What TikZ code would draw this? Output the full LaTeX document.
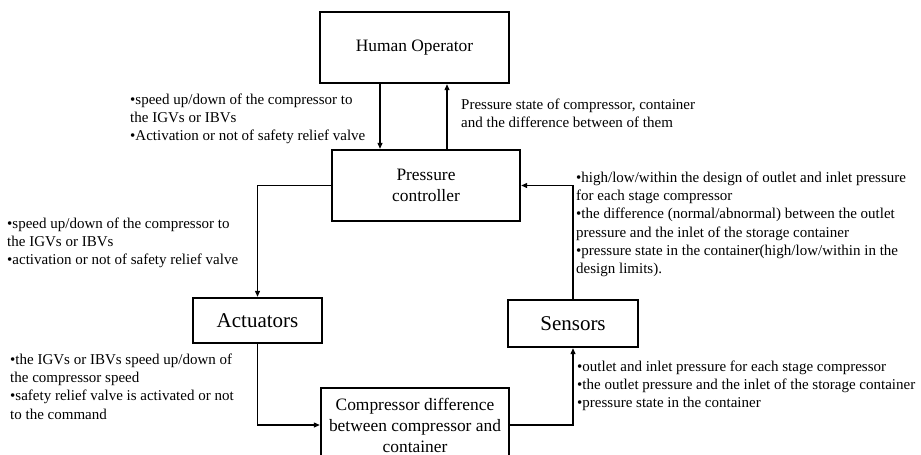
\documentclass[tikz,border=0pt]{standalone}
\usepackage{fontspec}
\setmainfont{Liberation Serif}
\usetikzlibrary{arrows.meta}
\begin{document}
\begin{tikzpicture}[x=1pt,y=-1pt,
  box/.style={draw=black,line width=2.4pt,inner sep=0pt,align=center},
  boxtext/.style={font=\fontsize{17.4}{21}\selectfont},
  bigtext/.style={font=\fontsize{21}{24}\selectfont},
  lbl/.style={inner sep=0pt,anchor=north west,align=left,font=\fontsize{15}{18.3}\selectfont},
  conn/.style={draw=black,line width=1.2pt,-{Triangle[length=6pt,width=5pt]}}]
\useasboundingbox (0,0) rectangle (921,455);
% boxes
\node[box,boxtext,minimum width=189pt,minimum height=71pt] (ho) at (414.5,47.5) {Human Operator};
\node[box,boxtext,minimum width=188pt,minimum height=71pt] (pc) at (426,185.5) {Pressure\\controller};
\node[box,bigtext,minimum width=129pt,minimum height=45pt] (act) at (257.5,320.5) {Actuators};
\node[box,bigtext,minimum width=130pt,minimum height=47pt] (sen) at (573,323.5) {Sensors};
\node[box,boxtext,minimum width=188pt,minimum height=74pt] (cd) at (415,425) {Compressor difference\\between compressor and\\container};
% connectors
\coordinate (hoL) at (380,0);
\coordinate (hoR) at (447,0);
\draw[conn] (ho.south -| hoL) -- (pc.north -| hoL);
\draw[conn] (pc.north -| hoR) -- (ho.south -| hoR);
\draw[conn] (pc.west) -| (act.north);
\draw[conn] (act.south) |- (cd.west);
\draw[conn] (cd.east) -| (sen.south);
\draw[conn] (sen.north) |- (pc.east);
% labels
\node[lbl] (l1) at (130,93.5) {•speed up/down of the compressor to\\the IGVs or IBVs\\•Activation or not of safety relief valve};
\node[lbl] (l2) at (461,98.5) {Pressure state of compressor, container\\and the difference between of them};
\node[lbl] (l3) at (7,217.5) {•speed up/down of the compressor to\\the IGVs or IBVs\\•activation or not of safety relief valve};
\node[lbl] (l4) at (10,353.5) {•the IGVs or IBVs speed up/down of\\the compressor speed\\•safety relief valve is activated or not\\to the command};
\node[lbl] (l5) at (576,171.5) {•high/low/within the design of outlet and inlet pressure\\for each stage compressor\\•the difference (normal/abnormal) between the outlet\\pressure and the inlet of the storage container\\•pressure state in the container(high/low/within in the\\design limits).};
\node[lbl] (l6) at (577,360.5) {•outlet and inlet pressure for each stage compressor\\•the outlet pressure and the inlet of the storage container\\•pressure state in the container};
\end{tikzpicture}
\end{document}
